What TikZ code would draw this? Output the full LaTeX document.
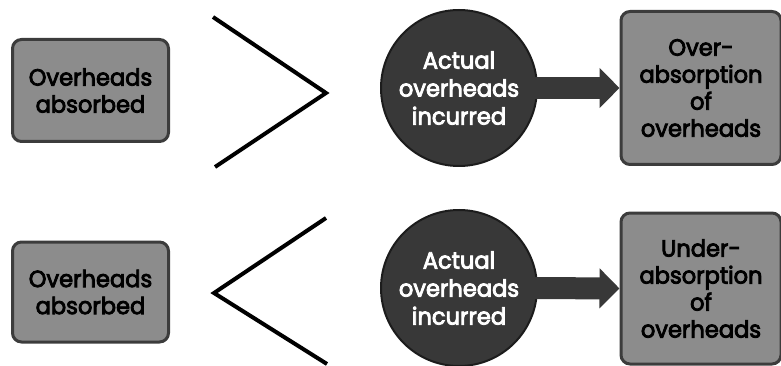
\documentclass[tikz,border=0pt]{standalone}
\usepackage{fontspec}
\setmainfont{Poppins}
\newfontfamily\labelfont{Poppins}[FakeBold=3.5, FakeStretch=0.96]
\usetikzlibrary{arrows.meta}
\definecolor{boxfill}{HTML}{8C8C8C}
\definecolor{boxline}{HTML}{3C3C3C}
\definecolor{discfill}{HTML}{383838}
\definecolor{discline}{HTML}{1C1C1C}
\tikzset{
  greybox/.style={draw=boxline, line width=3pt, fill=boxfill, rounded corners=9pt,
    align=center, text=black, font=\labelfont\fontsize{23.5}{27}\selectfont, inner sep=0pt},
  disc/.style={circle, draw=discline, line width=2pt, fill=discfill, text=white,
    align=center, font=\labelfont\fontsize{23.5}{28}\selectfont, minimum size=156pt, inner sep=0pt},
  fatarrow/.style={draw=discfill, line width=22pt,
    -{Triangle[length=20pt,width=39pt]}},
  bracket/.style={line width=4pt, line join=miter, black}
}
\begin{document}
\begin{tikzpicture}[x=1pt,y=-1pt]
  \useasboundingbox (0,0) rectangle (781,366);

  % upper row
  \node[greybox, minimum width=156pt, minimum height=102pt] (abs1) at (90.5,90.5)
    {Overheads\\absorbed};
  \coordinate (g1a) at (213,17);
  \coordinate (g1b) at (326,93);
  \coordinate (g1c) at (215,167);
  \draw[bracket] (g1a) -- (g1b) -- (g1c);
  \node[disc] (act1) at (459,88) {Actual\\overheads\\incurred};
  \node[greybox, minimum width=160pt, minimum height=153pt] (res1) at (701,88)
    {Over-\\absorption\\of\\overheads};
  \draw[fatarrow] ([xshift=-6pt]act1.east) -- (res1.west);

  % lower row
  \node[greybox, minimum width=156pt, minimum height=100pt] (abs2) at (90.5,292)
    {Overheads\\absorbed};
  \coordinate (g2a) at (326,218);
  \coordinate (g2b) at (214,293);
  \coordinate (g2c) at (327,364);
  \draw[bracket] (g2a) -- (g2b) -- (g2c);
  \node[disc] (act2) at (459,288) {Actual\\overheads\\incurred};
  \node[greybox, minimum width=160pt, minimum height=151pt] (res2) at (701,288.5)
    {Under-\\absorption\\of\\overheads};
  \draw[fatarrow] ([xshift=-6pt]act2.east) -- (res2.west);
\end{tikzpicture}
\end{document}
